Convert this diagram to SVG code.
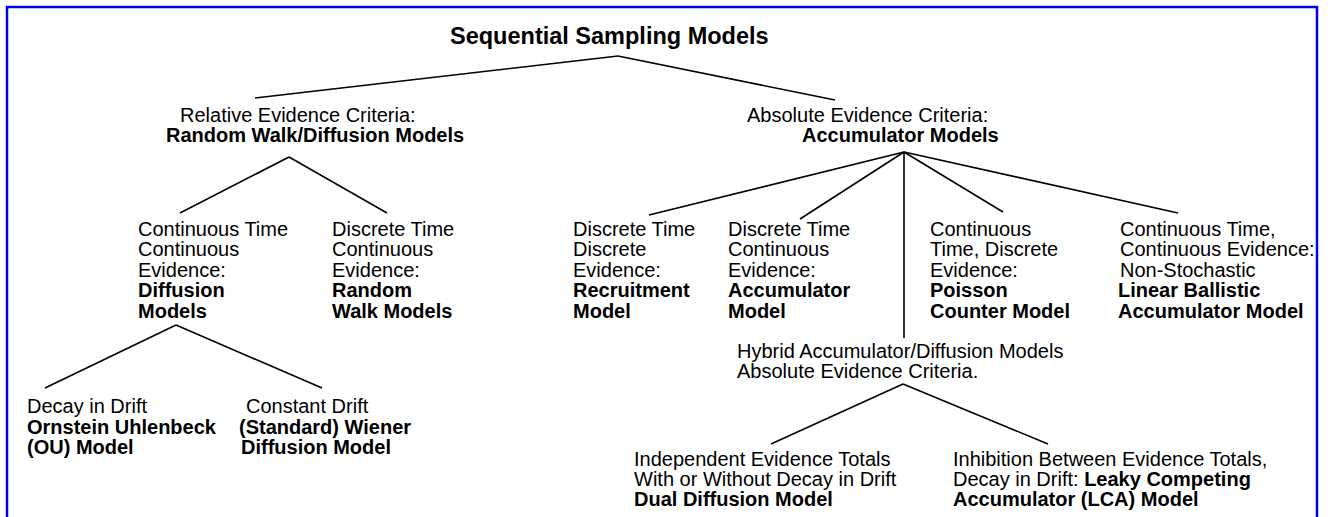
<svg xmlns="http://www.w3.org/2000/svg" width="1328" height="517" viewBox="0 0 1328 517">
<style>
text{font-family:"Liberation Sans",Arial,Helvetica,sans-serif;font-size:20px;fill:#000}
.b{font-weight:bold}
.t{font-size:23.5px;font-weight:bold}
.c line{stroke:#000;stroke-width:1.6;fill:none}
</style>
<rect width="1328" height="517" fill="#fff"/>
<path d="M7 517V7H1317V517" fill="none" stroke="#0000ff" stroke-width="2.5"/>
<g class="c" id="connectors">
<line x1="618" y1="56" x2="255" y2="98"/>
<line x1="618" y1="56" x2="835" y2="100"/>
<line x1="289" y1="157" x2="180" y2="213"/>
<line x1="289" y1="157" x2="387" y2="213"/>
<line x1="176" y1="325" x2="45" y2="388"/>
<line x1="176" y1="325" x2="322" y2="388"/>
<line x1="904" y1="152" x2="649" y2="215"/>
<line x1="904" y1="152" x2="800" y2="219"/>
<line x1="904" y1="152" x2="904" y2="338"/>
<line x1="904" y1="152" x2="1003" y2="212"/>
<line x1="904" y1="152" x2="1178" y2="213"/>
<line x1="903" y1="384" x2="771" y2="444"/>
<line x1="903" y1="384" x2="1048" y2="444"/>
</g>
<g id="root"><text class="t" x="450" y="44">Sequential Sampling Models</text></g>
<g id="relative">
<text x="180" y="122">Relative Evidence Criteria:</text>
<text class="b" x="166" y="142">Random Walk/Diffusion Models</text>
</g>
<g id="absolute">
<text x="747" y="122">Absolute Evidence Criteria:</text>
<text class="b" x="802" y="142">Accumulator Models</text>
</g>
<g id="diffusion">
<text x="138" y="236">Continuous Time</text>
<text x="138" y="256">Continuous</text>
<text x="138" y="277">Evidence:</text>
<text class="b" x="138" y="297">Diffusion</text>
<text class="b" x="138" y="318">Models</text>
</g>
<g id="randomwalk">
<text x="332" y="236">Discrete Time</text>
<text x="332" y="256">Continuous</text>
<text x="332" y="277">Evidence:</text>
<text class="b" x="332" y="297">Random</text>
<text class="b" x="332" y="318">Walk Models</text>
</g>
<g id="ou">
<text x="27" y="413">Decay in Drift</text>
<text class="b" x="27" y="434">Ornstein Uhlenbeck</text>
<text class="b" x="27" y="454">(OU) Model</text>
</g>
<g id="wiener">
<text x="246" y="413">Constant Drift</text>
<text class="b" x="239" y="434">(Standard) Wiener</text>
<text class="b" x="241" y="454">Diffusion Model</text>
</g>
<g id="recruitment">
<text x="573" y="236">Discrete Time</text>
<text x="573" y="256">Discrete</text>
<text x="573" y="277">Evidence:</text>
<text class="b" x="573" y="297">Recruitment</text>
<text class="b" x="573" y="318">Model</text>
</g>
<g id="accumulator">
<text x="728" y="236">Discrete Time</text>
<text x="728" y="256">Continuous</text>
<text x="728" y="277">Evidence:</text>
<text class="b" x="728" y="297">Accumulator</text>
<text class="b" x="728" y="318">Model</text>
</g>
<g id="poisson">
<text x="930" y="236">Continuous</text>
<text x="930" y="256">Time, Discrete</text>
<text x="930" y="277">Evidence:</text>
<text class="b" x="930" y="297">Poisson</text>
<text class="b" x="930" y="318">Counter Model</text>
</g>
<g id="lba">
<text x="1120" y="236">Continuous Time,</text>
<text x="1120" y="256">Continuous Evidence:</text>
<text x="1120" y="277">Non-Stochastic</text>
<text class="b" x="1118" y="297">Linear Ballistic</text>
<text class="b" x="1118" y="318">Accumulator Model</text>
</g>
<g id="hybrid">
<text x="737" y="358">Hybrid Accumulator/Diffusion Models</text>
<text x="737" y="378">Absolute Evidence Criteria.</text>
</g>
<g id="dual">
<text x="634" y="466">Independent Evidence Totals</text>
<text x="634" y="486">With or Without Decay in Drift</text>
<text class="b" x="634" y="506">Dual Diffusion Model</text>
</g>
<g id="lca">
<text x="953" y="466">Inhibition Between Evidence Totals,</text>
<text x="953" y="486">Decay in Drift: <tspan class="b">Leaky Competing</tspan></text>
<text class="b" x="953" y="506">Accumulator (LCA) Model</text>
</g>
</svg>
